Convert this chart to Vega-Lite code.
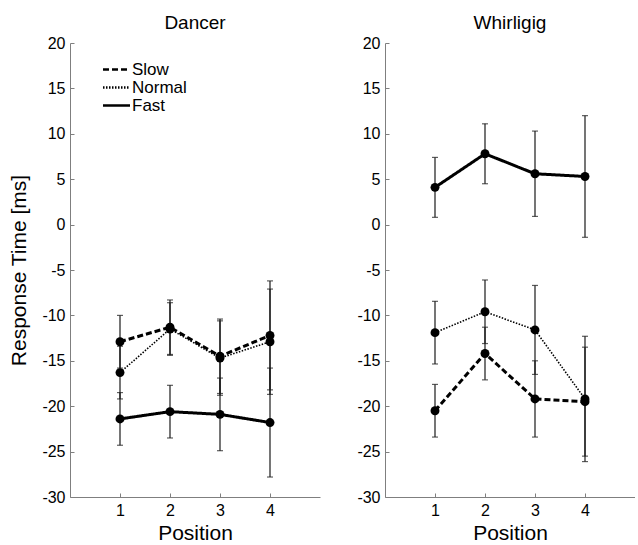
{
  "$schema": "https://vega.github.io/schema/vega-lite/v6.json",
  "padding": {"left": 8, "top": 14, "right": 0, "bottom": 0},
  "spacing": 36,
  "background": "white",
  "config": {
    "view": {"stroke": null},
    "font": "Liberation Sans",
    "axis": {
      "grid": false,
      "domainColor": "#7f7f7f",
      "tickColor": "#7f7f7f",
      "tickSize": -4,
      "labelPadding": 9,
      "labelColor": "#000",
      "labelFont": "Liberation Sans",
      "labelFontSize": 16,
      "titleFont": "Liberation Sans",
      "titleFontSize": 21,
      "titleFontWeight": "normal",
      "titleColor": "#000",
      "labelExpr": "replace(datum.label, '\u2212', '-')"
    },
    "title": {"font": "Liberation Sans", "fontSize": 19, "fontWeight": "normal", "color": "#000", "offset": 2}
  },
  "datasets": {
    "rt": [
      {"panel": "Dancer", "position": 1, "speed": "Slow", "mean": -12.9, "err": 2.9},
      {"panel": "Dancer", "position": 2, "speed": "Slow", "mean": -11.3, "err": 3.0},
      {"panel": "Dancer", "position": 3, "speed": "Slow", "mean": -14.5, "err": 4.1},
      {"panel": "Dancer", "position": 4, "speed": "Slow", "mean": -12.2, "err": 6.0},
      {"panel": "Dancer", "position": 1, "speed": "Normal", "mean": -16.3, "err": 2.9},
      {"panel": "Dancer", "position": 2, "speed": "Normal", "mean": -11.5, "err": 2.9},
      {"panel": "Dancer", "position": 3, "speed": "Normal", "mean": -14.7, "err": 4.1},
      {"panel": "Dancer", "position": 4, "speed": "Normal", "mean": -12.9, "err": 5.8},
      {"panel": "Dancer", "position": 1, "speed": "Fast", "mean": -21.4, "err": 2.9},
      {"panel": "Dancer", "position": 2, "speed": "Fast", "mean": -20.6, "err": 2.9},
      {"panel": "Dancer", "position": 3, "speed": "Fast", "mean": -20.9, "err": 4.0},
      {"panel": "Dancer", "position": 4, "speed": "Fast", "mean": -21.8, "err": 6.0},
      {"panel": "Whirligig", "position": 1, "speed": "Slow", "mean": -20.5, "err": 2.9},
      {"panel": "Whirligig", "position": 2, "speed": "Slow", "mean": -14.2, "err": 2.9},
      {"panel": "Whirligig", "position": 3, "speed": "Slow", "mean": -19.2, "err": 4.2},
      {"panel": "Whirligig", "position": 4, "speed": "Slow", "mean": -19.5, "err": 6.0},
      {"panel": "Whirligig", "position": 1, "speed": "Normal", "mean": -11.9, "err": 3.45},
      {"panel": "Whirligig", "position": 2, "speed": "Normal", "mean": -9.6, "err": 3.5},
      {"panel": "Whirligig", "position": 3, "speed": "Normal", "mean": -11.6, "err": 4.9},
      {"panel": "Whirligig", "position": 4, "speed": "Normal", "mean": -19.2, "err": 6.9},
      {"panel": "Whirligig", "position": 1, "speed": "Fast", "mean": 4.1, "err": 3.3},
      {"panel": "Whirligig", "position": 2, "speed": "Fast", "mean": 7.8, "err": 3.3},
      {"panel": "Whirligig", "position": 3, "speed": "Fast", "mean": 5.6, "err": 4.7},
      {"panel": "Whirligig", "position": 4, "speed": "Fast", "mean": 5.3, "err": 6.7}
    ]
  },
  "resolve": {"legend": {"strokeDash": "independent"}},
  "hconcat": [
    {
      "title": "Dancer",
      "width": 250,
      "height": 454,
      "data": {"name": "rt"},
      "transform": [{"filter": "datum.panel === 'Dancer'"}],
      "layer": [
        {
          "mark": {"type": "errorbar", "ticks": {"size": 6, "color": "#1a1a1a"}, "color": "#1a1a1a", "thickness": 1.2},
          "encoding": {
            "x": {"field": "position", "type": "quantitative", "title": "Position", "scale": {"domain": [0, 5], "nice": false}},
            "y": {"field": "mean", "type": "quantitative", "title": "Response Time [ms]", "scale": {"domain": [-30, 20], "nice": false, "zero": false}},
            "yError": {"field": "err"},
            "detail": {"field": "speed"}
          }
        },
        {
          "mark": {"type": "line", "color": "#000"},
          "encoding": {
            "x": {"field": "position", "type": "quantitative", "scale": {"domain": [0, 5], "nice": false}, "axis": {"values": [1, 2, 3, 4], "title": "Position"}},
            "y": {"field": "mean", "type": "quantitative", "scale": {"domain": [-30, 20], "nice": false, "zero": false}, "axis": {"values": [-30, -25, -20, -15, -10, -5, 0, 5, 10, 15, 20], "title": "Response Time [ms]", "titlePadding": 12}},
            "strokeDash": {"field": "speed", "type": "nominal", "scale": {"domain": ["Slow", "Normal", "Fast"], "range": [[6, 3], [1.5, 1.5], [1, 0]]},
              "legend": {"title": null, "orient": "none", "legendX": 38, "legendY": 18, "symbolType": "M-3,0H3", "symbolSize": 81, "symbolStrokeWidth": 2.6, "symbolStrokeColor": "#000", "symbolFillColor": "transparent", "labelFontSize": 17, "labelFont": "Liberation Sans", "labelColor": "#000", "labelOffset": 7, "rowPadding": 0, "padding": 0}},
            "strokeWidth": {"condition": {"test": "datum.speed === 'Normal'", "value": 1.6}, "value": 3}
          }
        },
        {
          "mark": {"type": "point", "filled": true, "color": "#000", "opacity": 1, "size": 80},
          "encoding": {
            "x": {"field": "position", "type": "quantitative"},
            "y": {"field": "mean", "type": "quantitative"}
          }
        }
      ]
    },
    {
      "title": "Whirligig",
      "width": 250,
      "height": 454,
      "data": {"name": "rt"},
      "transform": [{"filter": "datum.panel === 'Whirligig'"}],
      "layer": [
        {
          "mark": {"type": "errorbar", "ticks": {"size": 6, "color": "#1a1a1a"}, "color": "#1a1a1a", "thickness": 1.2},
          "encoding": {
            "x": {"field": "position", "type": "quantitative", "title": "Position", "scale": {"domain": [0, 5], "nice": false}},
            "y": {"field": "mean", "type": "quantitative", "title": null, "scale": {"domain": [-30, 20], "nice": false, "zero": false}},
            "yError": {"field": "err"},
            "detail": {"field": "speed"}
          }
        },
        {
          "mark": {"type": "line", "color": "#000"},
          "encoding": {
            "x": {"field": "position", "type": "quantitative", "scale": {"domain": [0, 5], "nice": false}, "axis": {"values": [1, 2, 3, 4], "title": "Position"}},
            "y": {"field": "mean", "type": "quantitative", "scale": {"domain": [-30, 20], "nice": false, "zero": false}, "axis": {"values": [-30, -25, -20, -15, -10, -5, 0, 5, 10, 15, 20], "title": null}},
            "strokeDash": {"field": "speed", "type": "nominal", "scale": {"domain": ["Slow", "Normal", "Fast"], "range": [[6, 3], [1.5, 1.5], [1, 0]]}, "legend": null},
            "strokeWidth": {"condition": {"test": "datum.speed === 'Normal'", "value": 1.6}, "value": 3}
          }
        },
        {
          "mark": {"type": "point", "filled": true, "color": "#000", "opacity": 1, "size": 80},
          "encoding": {
            "x": {"field": "position", "type": "quantitative"},
            "y": {"field": "mean", "type": "quantitative"}
          }
        }
      ]
    }
  ]
}
